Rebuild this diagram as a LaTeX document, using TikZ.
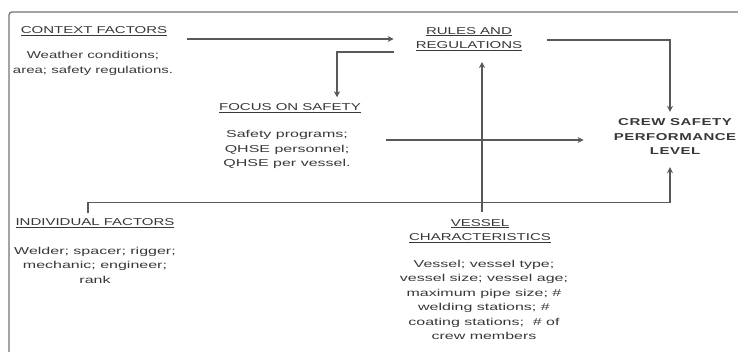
\documentclass[tikz,border=0pt]{standalone}
\usepackage{fontspec}
\setmainfont{Liberation Sans}[FakeStretch=1.5]
\newfontfamily\bodyfont{Liberation Sans}[FakeStretch=1.6]
\newfontfamily\crewfont{Liberation Sans}[FakeStretch=1.5,LetterSpace=5]
\usetikzlibrary{arrows.meta,calc}

\tikzset{
  lbl/.style={inner sep=0pt,align=center,text=black!78,font=\fontsize{10}{14.5}\selectfont\bodyfont},
  head/.style={lbl,font=\fontsize{10}{14.5}\selectfont},
  outcome/.style={lbl,font=\fontsize{10}{14.5}\selectfont\crewfont\bfseries},
  link/.style={draw=black!65,line width=1.1pt},
  arr/.style={link,-{Stealth[length=6pt,width=6pt]}}
}

\begin{document}
\begin{tikzpicture}[x=1pt,y=-1pt]
  \useasboundingbox (0,0) rectangle (738,352);
  \draw[black!55,line width=1.3pt,rounded corners=3pt] (9,352) -- (9,12) -- (738,12);

  \node[head] (ctxT) at (94,31) {\underline{CONTEXT FACTORS}};
  \node[lbl,font=\fontsize{10}{14.5}\selectfont] (ctxB) at (93,63.5) {Weather conditions;\\area; safety regulations.};

  \node[head] (rules) at (469,39) {\underline{RULES AND}\\\underline{REGULATIONS}};

  \node[head] (focT) at (290,108) {\underline{FOCUS ON SAFETY}};
  \node[lbl] (focB) at (287,149.5) {Safety programs;\\QHSE personnel;\\QHSE per vessel.};

  \node[outcome] (crew) at (675,137) {CREW SAFETY\\PERFORMANCE\\LEVEL};

  \node[head] (indT) at (95,223) {\underline{INDIVIDUAL FACTORS}};
  \node[lbl] (indB) at (95,265) {Welder; spacer; rigger;\\mechanic; engineer;\\rank};

  \node[head] (vesT) at (480,231) {\underline{VESSEL}\\\underline{CHARACTERISTICS}};
  \node[lbl] (vesB) at (484,300) {Vessel; vessel type;\\vessel size; vessel age;\\maximum pipe size; \#\\welding stations; \#\\coating stations;\ \ \# of\\crew members};

  % connectors
  \draw[arr] ($(ctxT.east |- rules.west)+(20,0)$) -- ($(rules.west)+(-22,0)$);
  \draw[arr] ($(rules.west)+(-22,13)$) -| ($(focT.north)+(47,-6)$);
  \draw[arr] ($(rules.east)+(25,1)$) -| ($(crew.north)+(-5,-7)$);
  \draw[arr] ($(focB.east |- crew.west)+(35,3)$) -- ($(crew.west)+(-30,3)$);
  \draw[arr] ($(vesT.north)+(2,-7)$) -- ($(vesT.north |- rules.south)+(2,11)$);
  \draw[arr] ($(indT.north)+(-7,-5)$) -- ++(0,-11) -| ($(crew.south)+(-5,12)$);
\end{tikzpicture}
\end{document}
